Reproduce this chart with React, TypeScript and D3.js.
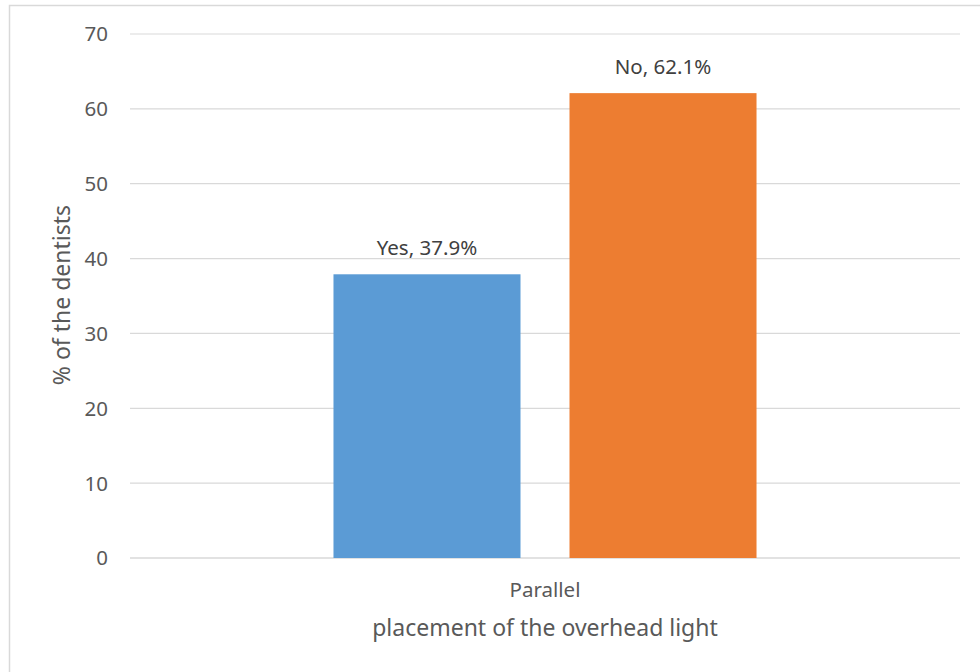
import React from "react";
import * as d3 from "d3";

const categories = ["Parallel"];
const seriesNames = ["Yes", "No"];
const seriesValues = [37.9, 62.1];
const seriesColors = ["#5B9BD5", "#ED7D31"];
const yTicks = [0, 10, 20, 30, 40, 50, 60, 70];
const xTitle = "placement of the overhead light";
const yTitle = "% of the dentists";

const W = 980;
const H = 672;
const plot = { left: 130, right: 960, top: 34, bottom: 558 };
const FONT = "'Noto Sans', 'Open Sans', sans-serif";
const TEXT = "#595959";

export default function App() {
  const y = d3.scaleLinear().domain([0, 70]).range([plot.bottom, plot.top]);
  const x0 = d3
    .scaleBand<string>()
    .domain(categories)
    .range([plot.left, plot.right])
    .paddingInner(0)
    .paddingOuter(0.481);
  const x1 = d3
    .scaleBand<string>()
    .domain(seriesNames)
    .range([0, x0.bandwidth()])
    .paddingInner(0.2076)
    .paddingOuter(0);

  return (
    <svg
      width={W}
      height={H}
      style={{ position: "absolute", left: 0, top: 0, background: "#fff" }}
      fontFamily={FONT}
    >
      <rect x={9.5} y={5.5} width={W} height={H} fill="#fff" stroke="#D9D9D9" strokeWidth={1.5} />
      {yTicks.map((t) => (
        <g key={t}>
          <line
            x1={plot.left}
            x2={plot.right}
            y1={y(t)}
            y2={y(t)}
            stroke="#D9D9D9"
            strokeWidth={t === 0 ? 1.5 : 1.2}
          />
          <text x={108} y={y(t)} dy="0.36em" textAnchor="end" fontSize={20.5} fill={TEXT}>
            {t}
          </text>
        </g>
      ))}
      {categories.map((c) => (
        <g key={c} transform={`translate(${x0(c)},0)`}>
          {seriesNames.map((s, i) => {
            const v = seriesValues[i];
            const bx = x1(s)!;
            return (
              <g key={s}>
                <rect
                  x={bx}
                  y={y(v)}
                  width={x1.bandwidth()}
                  height={y(0) - y(v)}
                  fill={seriesColors[i]}
                />
                <text
                  x={bx + x1.bandwidth() / 2}
                  y={y(v) - 19.5}
                  textAnchor="middle"
                  fontSize={20.5}
                  fill="#404040"
                >
                  {`${s}, ${v}%`}
                </text>
              </g>
            );
          })}
          <text
            x={x0.bandwidth() / 2}
            y={597}
            textAnchor="middle"
            fontSize={20.5}
            fill={TEXT}
          >
            {c}
          </text>
        </g>
      ))}
      <text
        x={(plot.left + plot.right) / 2}
        y={636}
        textAnchor="middle"
        fontSize={23}
        fill={TEXT}
      >
        {xTitle}
      </text>
      <text
        transform={`translate(70, 295) rotate(-90)`}
        textAnchor="middle"
        fontSize={23}
        fill={TEXT}
      >
        {yTitle}
      </text>
    </svg>
  );
}
